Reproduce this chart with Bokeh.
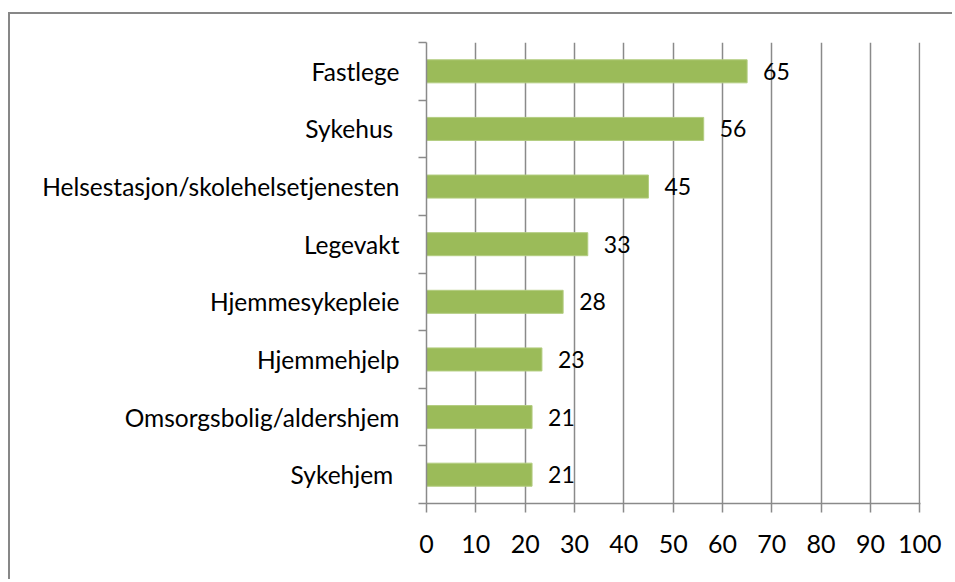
from bokeh.plotting import figure
from bokeh.models import Range1d, FixedTicker
from bokeh.core.properties import value
from bokeh.embed import file_html
from bokeh.resources import INLINE

categories = ["Fastlege", "Sykehus ", "Helsestasjon/skolehelsetjenesten", "Legevakt",
              "Hjemmesykepleie", "Hjemmehjelp", "Omsorgsbolig/aldershjem", "Sykehjem "]
values = [65.0, 56.2, 45.0, 32.7, 27.7, 23.4, 21.4, 21.4]
data_labels = ["65", "56", "45", "33", "28", "23", "21", "21"]
x_ticks = [0, 10, 20, 30, 40, 50, 60, 70, 80, 90, 100]

n = len(categories)
centers = [n - i - 0.5 for i in range(n)]
boundaries = list(range(n + 1))

FONT = "Lato"
GRID = "#8a8a8a"

p = figure(width=944, height=567, output_backend="svg", toolbar_location=None,
           x_range=Range1d(0, 100.15), y_range=Range1d(0, n),
           min_border_left=416, min_border_right=34, min_border_top=28, min_border_bottom=78)
p.margin = (12, 0, 0, 8)
p.styles = {"border-top": "2px solid #878787", "border-left": "2px solid #878787"}
p.outline_line_color = None
p.background_fill_color = "white"

p.hbar(y=centers, right=values, left=0, height=0.4, fill_color="#9BBB59",
       line_color="#B3CD80", line_width=1)

p.text(x=values, y=centers, text=data_labels, x_offset=16, text_align="left",
       text_baseline="middle", text_font=value(FONT), text_font_size="23px",
       text_color="black")

# x axis
p.xaxis.ticker = FixedTicker(ticks=x_ticks)
p.xaxis.axis_line_color = GRID
p.xaxis.axis_line_width = 1.5
p.xaxis.major_tick_line_color = GRID
p.xaxis.major_tick_line_width = 1.5
p.xaxis.major_tick_in = 0
p.xaxis.major_tick_out = 9
p.xaxis.minor_tick_line_color = None
p.xaxis.major_label_text_font = FONT
p.xaxis.major_label_text_font_size = "25px"
p.xaxis.major_label_text_color = "black"
p.xaxis.major_label_standoff = 22

# y axis (categories, ticks between categories)
p.yaxis.ticker = FixedTicker(ticks=centers, minor_ticks=boundaries)
p.yaxis.major_label_overrides = {c: name for c, name in zip(centers, categories)}
p.yaxis.axis_line_color = GRID
p.yaxis.axis_line_width = 1.5
p.yaxis.major_tick_line_color = None
p.yaxis.major_tick_in = 0
p.yaxis.major_tick_out = 0
p.yaxis.minor_tick_line_color = GRID
p.yaxis.minor_tick_line_width = 1.5
p.yaxis.minor_tick_in = 0
p.yaxis.minor_tick_out = 8
p.yaxis.major_label_text_font = FONT
p.yaxis.major_label_text_font_size = "24.5px"
p.yaxis.major_label_text_color = "black"
p.yaxis.major_label_standoff = 19

p.xgrid.ticker = FixedTicker(ticks=x_ticks)
p.xgrid.grid_line_color = GRID
p.xgrid.grid_line_width = 1.5
p.ygrid.grid_line_color = None

open("out.html", "w").write(file_html(p, INLINE))
